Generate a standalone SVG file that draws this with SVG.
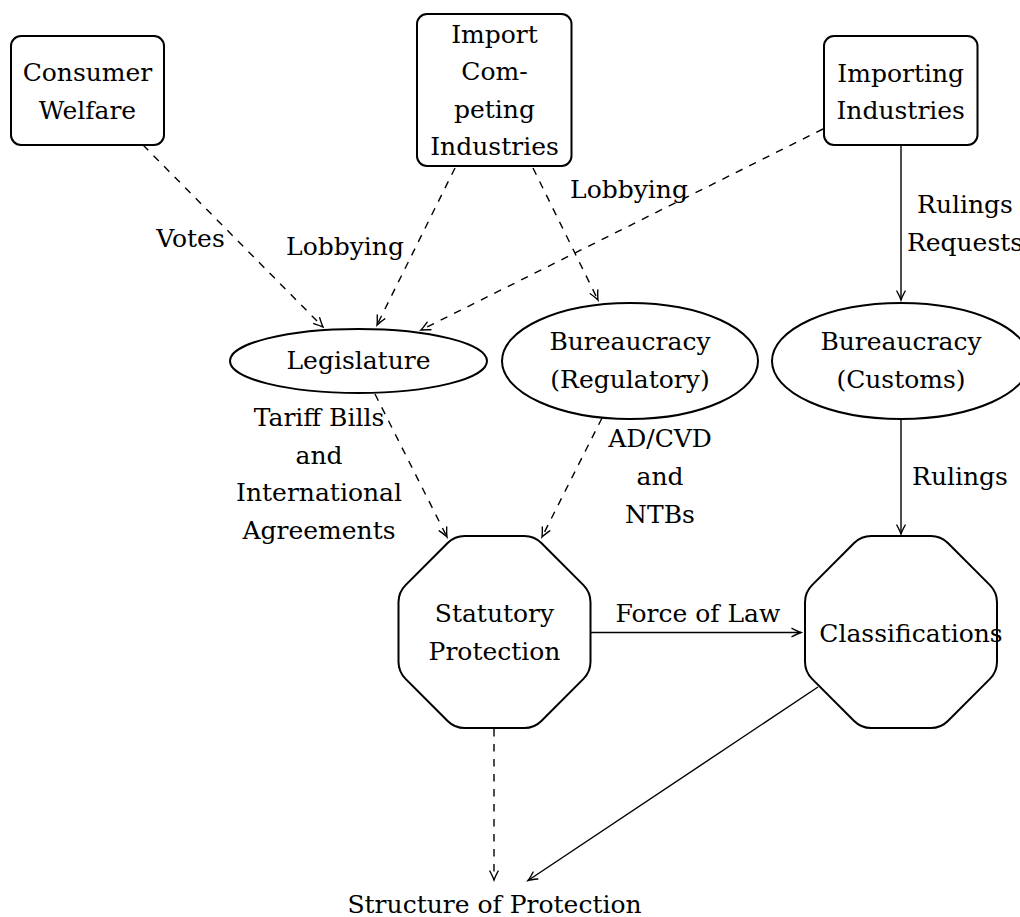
<svg xmlns="http://www.w3.org/2000/svg" xmlns:xlink="http://www.w3.org/1999/xlink" width="1020" height="917" viewBox="0 0 1020 917">
<style>
text{font-family:"DejaVu Serif","Liberation Serif",serif;font-size:25px;fill:#000;text-anchor:middle}
.box{fill:#fff;stroke:#000;stroke-width:2}
.c{fill:none;stroke:#000;stroke-width:1.4}
.d{stroke-dasharray:7.5 7.5}
</style>
<defs>
<marker id="ah" markerUnits="userSpaceOnUse" markerWidth="14" markerHeight="12" viewBox="-11 -6 12 12" refX="0" refY="0" orient="auto" overflow="visible">
<path d="M-9,-4.2 Q-3,-1 0,0 Q-3,1 -9,4.2" fill="none" stroke="#000" stroke-width="1.4" stroke-linecap="round"/>
</marker>
<path id="oct" d="M-29.8,-96 L29.8,-96 Q39.8,-96 46.87,-88.93 L88.93,-46.87 Q96,-39.8 96,-29.8 L96,29.8 Q96,39.8 88.93,46.87 L46.87,88.93 Q39.8,96 29.8,96 L-29.8,96 Q-39.8,96 -46.87,88.93 L-88.93,46.87 Q-96,39.8 -96,29.8 L-96,-29.8 Q-96,-39.8 -88.93,-46.87 L-46.87,-88.93 Q-39.8,-96 -29.8,-96 Z"/>
</defs>

<g id="connectors">
<line class="c d" x1="143" y1="145" x2="323" y2="327" marker-end="url(#ah)"/>
<line class="c d" x1="455" y1="168" x2="377" y2="325" marker-end="url(#ah)"/>
<line class="c d" x1="823" y1="129" x2="421" y2="330" marker-end="url(#ah)"/>
<line class="c d" x1="533" y1="168" x2="598" y2="300" marker-end="url(#ah)"/>
<line class="c" x1="901" y1="145" x2="901" y2="300" marker-end="url(#ah)"/>
<line class="c d" x1="375" y1="394" x2="447" y2="537" marker-end="url(#ah)"/>
<line class="c d" x1="602" y1="418" x2="542" y2="537" marker-end="url(#ah)"/>
<line class="c" x1="901" y1="419" x2="901" y2="534" marker-end="url(#ah)"/>
<line class="c" x1="591" y1="632.5" x2="801" y2="632.5" marker-end="url(#ah)"/>
<line class="c d" x1="494" y1="729" x2="494" y2="880" marker-end="url(#ah)"/>
<line class="c" x1="818" y1="687" x2="528" y2="880.5" marker-end="url(#ah)"/>
<text x="190.5" y="247">Votes</text>
<text x="345" y="255">Lobbying</text>
<text x="629" y="198">Lobbying</text>
<text x="965" y="213">Rulings</text>
<text x="965" y="251">Requests</text>
<text x="319" y="426">Tariff Bills</text>
<text x="319" y="463.5">and</text>
<text x="319" y="501">International</text>
<text x="319" y="538.5">Agreements</text>
<text x="660" y="447">AD/CVD</text>
<text x="660" y="485">and</text>
<text x="660" y="523">NTBs</text>
<text x="960" y="485">Rulings</text>
<text x="698" y="622">Force of Law</text>
</g>

<g id="consumer-welfare">
<rect class="box" x="11" y="36" width="153" height="109" rx="10"/>
<text x="87.5" y="81">Consumer</text>
<text x="87.5" y="118.5">Welfare</text>
</g>

<g id="import-competing">
<rect class="box" x="417" y="14" width="154.5" height="152" rx="10"/>
<text x="494.5" y="42.5">Import</text>
<text x="494.5" y="80">Com-</text>
<text x="494.5" y="117.5">peting</text>
<text x="494.5" y="155">Industries</text>
</g>

<g id="importing-industries">
<rect class="box" x="824" y="36" width="153.5" height="109" rx="10"/>
<text x="900.7" y="81.5">Importing</text>
<text x="900.7" y="119">Industries</text>
</g>

<g id="legislature">
<ellipse class="box" cx="358.5" cy="361" rx="128.5" ry="32"/>
<text x="358.5" y="369">Legislature</text>
</g>

<g id="bureaucracy-regulatory">
<ellipse class="box" cx="630" cy="361" rx="128" ry="58"/>
<text x="630" y="350">Bureaucracy</text>
<text x="630" y="387.5">(Regulatory)</text>
</g>

<g id="bureaucracy-customs">
<ellipse class="box" cx="901" cy="361" rx="129" ry="58"/>
<text x="901" y="350">Bureaucracy</text>
<text x="901" y="387.5">(Customs)</text>
</g>

<g id="statutory-protection">
<use xlink:href="#oct" href="#oct" class="box" transform="translate(494.5,632)"/>
<text x="494.5" y="622">Statutory</text>
<text x="494.5" y="659.5">Protection</text>
</g>

<g id="classifications">
<use xlink:href="#oct" href="#oct" class="box" transform="translate(901,632)"/>
<text x="911" y="641.5">Classifications</text>
</g>

<g id="structure-of-protection">
<text x="494.5" y="913">Structure of Protection</text>
</g>
</svg>
